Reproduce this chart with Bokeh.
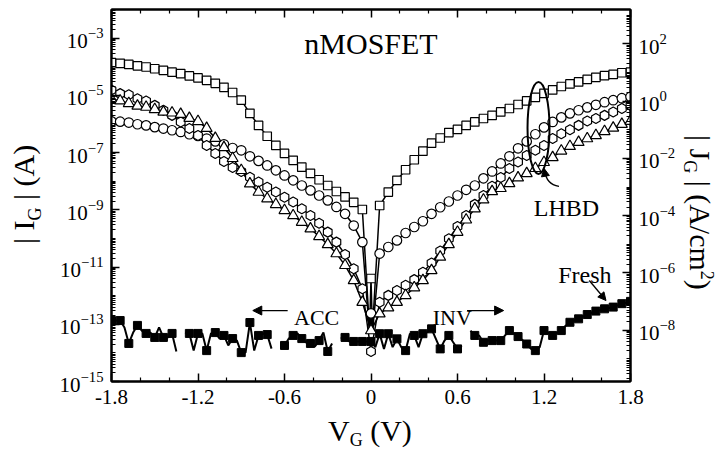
import math
import numpy as np
from bokeh.plotting import figure
from bokeh.layouts import row, column
from bokeh.models import (Range1d, LogAxis, LinearAxis, FixedTicker, LogScale,
                          Label, Arrow, NormalHead, Div)
from bokeh.embed import file_html
from bokeh.resources import INLINE

FONT = "Liberation Serif"
AREA = 6.25e-6  # device area (cm^2): J = I / AREA

# ---------------- data (log10 of |I_G| in A) ----------------
VG = [-1.8, -1.74, -1.68, -1.62, -1.56, -1.5, -1.44, -1.38, -1.32, -1.26,
      -1.2, -1.14, -1.08, -1.02, -0.96, -0.9, -0.84, -0.78, -0.72, -0.66,
      -0.6, -0.54, -0.48, -0.42, -0.36, -0.3, -0.24, -0.18, -0.12, -0.06,
      0.0, 0.06, 0.12, 0.18, 0.24, 0.3, 0.36, 0.42, 0.48, 0.54,
      0.6, 0.66, 0.72, 0.78, 0.84, 0.9, 0.96, 1.02, 1.08, 1.14,
      1.2, 1.26, 1.32, 1.38, 1.44, 1.5, 1.56, 1.62, 1.68, 1.74, 1.8]

SQ = [-3.86, -3.88, -3.92, -3.97, -4.01, -4.07, -4.13, -4.19, -4.24, -4.32,
      -4.39, -4.48, -4.58, -4.72, -4.90, -5.17, -5.63, -6.05, -6.43, -6.75,
      -7.03, -7.27, -7.51, -7.73, -7.95, -8.15, -8.36, -8.55, -8.74, -8.99,
      -11.40, -8.85, -8.38, -7.97, -7.60, -7.25, -6.95, -6.67, -6.49, -6.30,
      -6.19, -6.05, -5.93, -5.81, -5.70, -5.58, -5.46, -5.32, -5.19, -5.07,
      -4.93, -4.81, -4.69, -4.60, -4.53, -4.44, -4.37, -4.31, -4.27, -4.21, -4.19]

CI = [-5.91, -5.92, -5.95, -6.01, -6.05, -6.11, -6.16, -6.22, -6.28, -6.36,
      -6.42, -6.51, -6.61, -6.71, -6.84, -6.92, -7.13, -7.29, -7.45, -7.62,
      -7.80, -7.97, -8.15, -8.32, -8.50, -8.67, -8.90, -9.14, -9.55, -10.13,
      -12.62, -10.53, -10.30, -10.07, -9.81, -9.60, -9.40, -9.14, -8.91, -8.71,
      -8.50, -8.30, -8.15, -7.90, -7.66, -7.38, -7.13, -6.85, -6.61, -6.36,
      -6.12, -5.93, -5.77, -5.63, -5.52, -5.42, -5.33, -5.24, -5.17, -5.10, -5.05]

PE = [-4.81, -4.94, -4.98, -5.12, -5.20, -5.35, -5.52, -5.70, -5.93, -6.16,
      -6.40, -6.75, -7.03, -7.31, -7.52, -7.66, -7.86, -8.03, -8.21, -8.38,
      -8.56, -8.73, -8.96, -9.20, -9.47, -9.78, -10.13, -10.56, -11.06, -11.76,
      -13.95, -12.23, -11.99, -11.82, -11.64, -11.44, -11.18, -10.86, -10.44, -10.01,
      -9.58, -9.20, -8.81, -8.50, -8.18, -7.87, -7.56, -7.33, -7.10, -6.92,
      -6.75, -6.51, -6.34, -6.20, -6.05, -5.90, -5.81, -5.70, -5.58, -5.46, -5.35]

TR = [-5.14, -5.19, -5.28, -5.37, -5.41, -5.49, -5.58, -5.61, -5.66, -5.80,
      -5.91, -6.15, -6.50, -6.82, -7.20, -7.62, -8.09, -8.38, -8.61, -8.81,
      -9.02, -9.20, -9.43, -9.66, -9.93, -10.21, -10.53, -10.94, -11.47, -12.23,
      -13.22, -12.63, -12.42, -12.23, -11.99, -11.72, -11.47, -11.12, -10.65, -10.21,
      -9.78, -9.35, -8.96, -8.65, -8.36, -8.25, -8.08, -7.88, -7.73, -7.55,
      -7.34, -7.17, -6.94, -6.78, -6.64, -6.51, -6.40, -6.26, -6.14, -6.01, -5.90]

# extra (unmarked) points of the traces right beside 0 V
DIP_V = [-0.01, 0.01]
SQ_DIP = [-13.2, -13.2]
CI_DIP = [-13.3, -13.3]

# fresh device, finer voltage step (nan = no measurable current)
VF = [-1.8, -1.77, -1.74, -1.71, -1.68, -1.65, -1.62, -1.59, -1.56, -1.53,
      -1.5, -1.47, -1.44, -1.41, -1.38, -1.35, -1.32, -1.29, -1.26, -1.23,
      -1.2, -1.17, -1.14, -1.11, -1.08, -1.05, -1.02, -0.99, -0.96, -0.93,
      -0.9, -0.87, -0.84, -0.81, -0.78, -0.75, -0.72, -0.69, -0.66, -0.63,
      -0.6, -0.57, -0.54, -0.51, -0.48, -0.45, -0.42, -0.39, -0.36, -0.33,
      -0.3, -0.27, -0.24, -0.21, -0.18, -0.15, -0.12, -0.09, -0.06, -0.03,
      0.0, 0.03, 0.06, 0.09, 0.12, 0.15, 0.18, 0.21, 0.24, 0.27,
      0.3, 0.33, 0.36, 0.39, 0.42, 0.45, 0.48, 0.51, 0.54, 0.57,
      0.6, 0.63, 0.66, 0.69, 0.72, 0.75, 0.78, 0.81, 0.84, 0.87,
      0.9, 0.93, 0.96, 0.99, 1.02, 1.05, 1.08, 1.11, 1.14, 1.17,
      1.2, 1.23, 1.26, 1.29, 1.32, 1.35, 1.38, 1.41, 1.44, 1.47,
      1.5, 1.53, 1.56, 1.59, 1.62, 1.65, 1.68, 1.71, 1.74, 1.77, 1.8]
nan = float("nan")
FR = [-12.87, -12.87, -12.87, -13.11, -13.67, -13.29, -13.04, -13.22, -13.32, -13.29,
      -13.46, -13.11, -13.46, -13.46, -13.32, -13.95, nan, -13.29, -13.32, -13.92,
      -13.32, -13.32, -13.92, -13.32, -13.29, -13.50, -13.39, -13.74, -13.50, -13.57,
      -13.99, -13.99, -12.94, -13.92, -13.39, -13.32, -13.36, -13.85, nan, -13.71,
      -13.74, -13.50, -13.39, -13.32, -13.50, -13.64, -13.67, -13.78, -13.57, -13.29,
      -13.95, -13.67, nan, -13.50, -13.46, -13.60, -13.60, -13.60, -13.60, -13.60,
      -13.60, -13.80, -13.33, -13.86, -13.33, -13.80, -13.51, -13.80, -13.92, -13.33,
      -13.39, -13.80, -13.33, -13.28, -13.16, -13.51, -13.86, -13.57, -13.39, -13.63,
      -13.86, -13.74, nan, -13.22, -13.39, -13.39, -13.63, -13.57, -13.57, -13.57,
      -13.57, -13.39, -13.22, -13.33, -13.43, -13.55, -13.69, -13.86, -13.92, -13.80,
      -13.22, -13.30, -13.39, -13.30, -13.22, -13.05, -12.93, -12.87, -12.81, -12.73,
      -12.66, -12.60, -12.54, -12.50, -12.46, -12.43, -12.40, -12.34, -12.28, -12.25, -12.20]

# axis ticks
XT = [-1.8, -1.2, -0.6, 0.0, 0.6, 1.2, 1.8]
XTL = ["-1.8", "-1.2", "-0.6", "0", "0.6", "1.2", "1.8"]
XM = [-1.6, -1.4, -1.0, -0.8, -0.4, -0.2, 0.2, 0.4, 0.8, 1.0, 1.4, 1.6]
YL_EXP = [-15, -13, -11, -9, -7, -5, -3]
YR_EXP = [-8, -6, -4, -2, 0, 2]


def to_amp(vals):
    return [10.0 ** v for v in vals]


def with_dip(v, L, dv=None, dL=None):
    xs = list(v) + (list(dv) if dv else [])
    ys = list(L) + (list(dL) if dL else [])
    order = np.argsort(xs, kind="stable")
    return [xs[i] for i in order], [10.0 ** ys[i] for i in order]


# layout geometry (page px): left title strip | plot | right title strip ; x title below
LW_DIV, RW_DIV, PW, PH, BH = 50, 43, 628, 414, 37

p = figure(width=PW, height=PH,
           x_range=Range1d(-1.8, 1.8), y_range=Range1d(1e-15, 1e-2),
           y_axis_type="log", output_backend="svg", toolbar_location=None,
           min_border_left=61, min_border_right=48, min_border_top=9,
           min_border_bottom=33)
p.margin = 0
p.grid.visible = False
p.outline_line_color = "black"
p.outline_line_width = 2
p.background_fill_color = "white"
p.border_fill_color = "white"

bax = p.below[0]
lax = p.left[0]

# right axis: current density
p.extra_y_ranges = {"J": Range1d(1e-15 / AREA, 1e-2 / AREA)}
p.extra_y_scales = {"J": LogScale()}
rax = LogAxis(y_range_name="J")
p.add_layout(rax, "right")
tax = LinearAxis()
p.add_layout(tax, "above")

xtick = FixedTicker(ticks=XT, minor_ticks=XM)
bax.ticker = xtick
tax.ticker = xtick
bax.major_label_overrides = dict(zip(XT, XTL))
tax.major_label_overrides = {t: "" for t in XT}

lmin = [k * 10.0 ** d for d in range(-15, -2) for k in range(1, 10)] + [1e-2]
lax.ticker = FixedTicker(ticks=[10.0 ** e for e in YL_EXP], minor_ticks=lmin)
rmin = [k * 10.0 ** d for d in range(-10, 4) for k in range(1, 10)]
rax.ticker = FixedTicker(ticks=[10.0 ** e for e in YR_EXP], minor_ticks=rmin)

for ax in [bax, lax, rax, tax]:
    ax.axis_line_width = 2
    ax.axis_line_color = "black"
    ax.major_tick_in = 8
    ax.major_tick_out = 0
    ax.minor_tick_in = 4
    ax.minor_tick_out = 0
    ax.major_tick_line_width = 1.5
    ax.minor_tick_line_width = 1.2
    ax.major_tick_line_color = "black"
    ax.minor_tick_line_color = "black"
    ax.major_label_text_font = FONT
    ax.major_label_text_color = "black"
    ax.major_label_text_font_size = "21px"
    ax.major_label_standoff = 8
tax.major_label_standoff = 0

# ---------------- traces ----------------
LW = 1.5
sx, sy = with_dip(VG, SQ, DIP_V, SQ_DIP)
p.line(sx, sy, line_color="black", line_width=LW)
cx, cy = with_dip(VG, CI, DIP_V, CI_DIP)
p.line(cx, cy, line_color="black", line_width=LW)
px_, py_ = with_dip(VG, PE)
p.line(px_, py_, line_color="black", line_width=LW)
tx, ty = with_dip(VG, TR)
p.line(tx, ty, line_color="black", line_width=LW)
p.line(VF, to_amp(FR), line_color="black", line_width=2)

MK = dict(fill_color="white", line_color="black", line_width=1.2)
p.scatter(VG, to_amp(SQ), marker="square", size=8.5, **MK)
p.scatter(VG, to_amp(CI), marker="circle", size=9.5, **MK)
p.scatter(VG, to_amp(PE), marker="hex", size=10, angle=math.pi / 2, **MK)
p.scatter(VG, to_amp(TR), marker="triangle", size=11, **MK)
p.scatter(VF[::2], to_amp(FR[::2]), marker="square", size=8,
          fill_color="black", line_color="black")

# ---------------- annotations ----------------
def lab(x, y, text, size, align="left"):
    p.add_layout(Label(x=x, y=y, text=text, text_font=FONT, text_font_size=size,
                       text_color="black", text_align=align,
                       text_baseline="alphabetic"))

lab(0.0, 10 ** -3.18, "nMOSFET", "30px", align="center")
lab(-0.534, 10 ** -12.76, "ACC", "22px")
lab(0.428, 10 ** -12.76, "INV", "22px")
lab(1.356, 10 ** -8.95, "LHBD", "24px", align="center")
lab(1.484, 10 ** -11.29, "Fresh", "24px", align="center")

head = dict(size=9, fill_color="black", line_color="black")
p.add_layout(Arrow(end=NormalHead(**head), x_start=-0.578, y_start=10 ** -12.52,
                   x_end=-0.82, y_end=10 ** -12.52, line_width=1.3))
p.add_layout(Arrow(end=NormalHead(**head), x_start=0.666, y_start=10 ** -12.52,
                   x_end=0.92, y_end=10 ** -12.52, line_width=1.3))
p.add_layout(Arrow(end=NormalHead(size=8, fill_color="black", line_color="black"),
                   x_start=1.514, y_start=10 ** -11.47, x_end=1.63, y_end=10 ** -12.17,
                   line_width=1.3))
p.ellipse(x=[1.162], y=[10 ** -6.14], width=22, height=92,
          width_units="screen", height_units="screen",
          fill_color=None, line_color="black", line_width=2)
p.quadratic(x0=[1.304], y0=[10 ** -8.18], x1=[1.205], y1=[10 ** -7.62],
            cx=[1.214], cy=[10 ** -8.1], line_color="black", line_width=1.3)
p.add_layout(Arrow(end=NormalHead(size=8, fill_color="black", line_color="black"),
                   x_start=1.204, y_start=10 ** -7.66, x_end=1.2, y_end=10 ** -7.55,
                   line_width=1.3))

# ---------------- axis titles (HTML text with true sub/superscripts) ----------------
TXT = "font-family:'Liberation Serif';color:#000;white-space:nowrap;"
left_html = (
    f'<div style="width:{PH}px;height:{LW_DIV}px;transform-origin:0 0;'
    f'transform:translate(0px,{PH}px) rotate(-90deg);{TXT}font-size:30px;line-height:30px;">'
    '<span style="position:relative;left:170px;top:9px;">| I'
    '<span style="font-size:18px;position:relative;top:7px;">G</span> | (A)</span></div>'
)
right_html = (
    f'<div style="width:{PH}px;height:{RW_DIV}px;transform-origin:0 0;'
    f'transform:translate({RW_DIV}px,0px) rotate(90deg);{TXT}font-size:30px;line-height:30px;">'
    '<span style="position:relative;left:135px;top:6px;">| J'
    '<span style="font-size:18px;position:relative;top:6px;">G</span> | (A/cm'
    '<span style="font-size:18px;position:relative;top:-11px;">2</span>)</span></div>'
)
bottom_html = (
    f'<div style="position:relative;left:328px;top:2px;width:160px;{TXT}'
    'font-size:30px;line-height:30px;">'
    'V<span style="font-size:18px;position:relative;top:5px;">G</span> (V)</div>'
)
left_div = Div(text=left_html, width=LW_DIV, height=PH, margin=0,
               styles={"overflow": "hidden"})
right_div = Div(text=right_html, width=RW_DIV, height=PH, margin=0,
                styles={"overflow": "hidden"})
bottom_div = Div(text=bottom_html, width=LW_DIV + PW + RW_DIV, height=BH, margin=0,
                 styles={"overflow": "visible"})

layout = column(row(left_div, p, right_div, spacing=0), bottom_div, spacing=0)

open("out.html", "w").write(file_html(layout, INLINE))
